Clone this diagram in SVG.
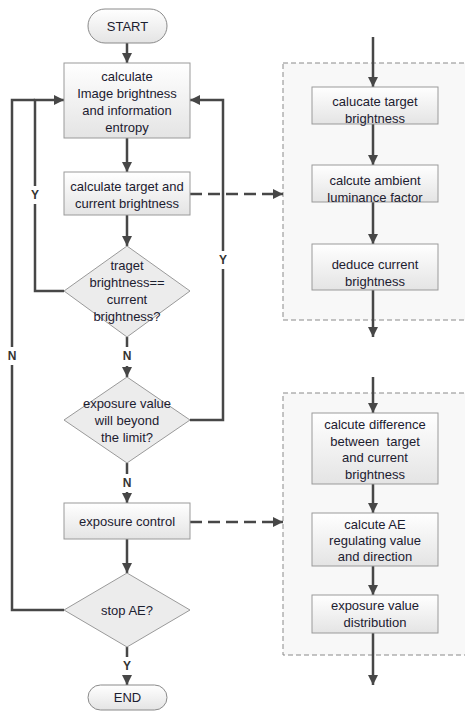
<svg xmlns="http://www.w3.org/2000/svg" width="465" height="717" viewBox="0 0 465 717">
<defs>
<linearGradient id="g" x1="0" y1="0" x2="0" y2="1">
<stop offset="0" stop-color="#ffffff"/>
<stop offset="1" stop-color="#e4e4e4"/>
</linearGradient>
<marker id="ah" viewBox="0 0 10 10" refX="10" refY="5" markerWidth="10" markerHeight="10" markerUnits="userSpaceOnUse" orient="auto">
<path d="M0,0 L10,5 L0,10 z" fill="#474747"/>
</marker>
</defs>
<style>
.bx{fill:url(#g);stroke:#9a9a9a;stroke-width:1}
.dm{fill:#ececec;stroke:#9a9a9a;stroke-width:1}
.pl{fill:url(#g);stroke:#8a8a8a;stroke-width:1}
.ct{fill:#f8f8f8;stroke:#8a8a8a;stroke-width:1;stroke-dasharray:5,3}
.ln{fill:none;stroke:#474747;stroke-width:2.5}
.ds{fill:none;stroke:#474747;stroke-width:2.5;stroke-dasharray:12,6}
text{font-family:"Liberation Sans",Arial,sans-serif;font-size:13px;fill:#1c2030;text-anchor:middle;dominant-baseline:central;white-space:pre}
.lb{font-size:12px;font-weight:bold;fill:#333}
</style>
<g id="container1"><rect class="ct" x="283" y="63" width="190" height="257"/></g>
<g id="container2"><rect class="ct" x="283" y="393" width="190" height="262"/></g>
<g id="connectors">
<path class="ln" d="M127,43 V63" marker-end="url(#ah)"/>
<path class="ln" d="M127,138 V172" marker-end="url(#ah)"/>
<path class="ln" d="M127,215 V246" marker-end="url(#ah)"/>
<path class="ln" d="M127,337 V347"/>
<path class="ln" d="M127,366 V377" marker-end="url(#ah)"/>
<path class="ln" d="M64,291 H35 V204"/>
<path class="ln" d="M35,186 V100 H64" marker-end="url(#ah)"/>
<path class="ln" d="M190,420 H223 V269"/>
<path class="ln" d="M223,251 V100 H190" marker-end="url(#ah)"/>
<path class="ln" d="M127,463 V474"/>
<path class="ln" d="M127,492 V503" marker-end="url(#ah)"/>
<path class="ln" d="M127,539 V573" marker-end="url(#ah)"/>
<path class="ln" d="M64,610 H12 V365"/>
<path class="ln" d="M12,347 V100 H35"/>
<path class="ln" d="M127,647 V657"/>
<path class="ln" d="M127,675 V685" marker-end="url(#ah)"/>
<path class="ds" d="M190,194 H283" marker-end="url(#ah)"/>
<path class="ds" d="M190,522 H283" marker-end="url(#ah)"/>
<path class="ln" d="M373,37 V87" marker-end="url(#ah)"/>
<path class="ln" d="M373,124 V165" marker-end="url(#ah)"/>
<path class="ln" d="M373,202 V244" marker-end="url(#ah)"/>
<path class="ln" d="M373,290 V337" marker-end="url(#ah)"/>
<path class="ln" d="M373,377 V413" marker-end="url(#ah)"/>
<path class="ln" d="M373,484 V513" marker-end="url(#ah)"/>
<path class="ln" d="M373,566 V595" marker-end="url(#ah)"/>
<path class="ln" d="M373,633 V685" marker-end="url(#ah)"/>
<text class="lb" x="35" y="195">Y</text>
<text class="lb" x="223" y="260">Y</text>
<text class="lb" x="127" y="356">N</text>
<text class="lb" x="12" y="356">N</text>
<text class="lb" x="127" y="483">N</text>
<text class="lb" x="127" y="666">Y</text>
</g>
<g id="start"><rect class="pl" x="88" y="9" width="79" height="34" rx="17"/><text x="127.5" y="26">START</text></g>
<g id="box1"><rect class="bx" x="64" y="63" width="126" height="75"/>
<text x="127" y="76">calculate</text><text x="127" y="93">Image brightness</text><text x="127" y="110">and information</text><text x="127" y="127">entropy</text></g>
<g id="box2"><rect class="bx" x="64" y="172" width="126" height="43"/>
<text x="127" y="186">calculate target and</text><text x="127" y="203">current brightness</text></g>
<g id="dec1"><path class="dm" d="M127,246 L190,291 L127,337 L64,291 Z"/>
<text x="127" y="265">traget</text><text x="127" y="282">brightness==</text><text x="127" y="299">current</text><text x="127" y="316">brightness?</text></g>
<g id="dec2"><path class="dm" d="M127,377 L190,420 L127,463 L64,420 Z"/>
<text x="127" y="403">exposure value</text><text x="127" y="420">will beyond</text><text x="127" y="437">the limit?</text></g>
<g id="box3"><rect class="bx" x="64" y="503" width="126" height="36"/>
<text x="127" y="521">exposure control</text></g>
<g id="dec3"><path class="dm" d="M127,573 L190,610 L127,647 L64,610 Z"/>
<text x="127" y="610">stop AE?</text></g>
<g id="end"><rect class="pl" x="88" y="685" width="79" height="25" rx="12.5"/><text x="127.5" y="697.5">END</text></g>
<g id="boxA"><rect class="bx" x="312" y="87" width="126" height="37"/>
<text x="375" y="101">calucate target</text><text x="375" y="118">brightness</text></g>
<g id="boxB"><rect class="bx" x="312" y="165" width="126" height="37"/>
<text x="375" y="180">calcute ambient</text><text x="375" y="197">luminance factor</text></g>
<g id="boxC"><rect class="bx" x="312" y="244" width="126" height="46"/>
<text x="375" y="264">deduce current</text><text x="375" y="281">brightness</text></g>
<g id="boxD"><rect class="bx" x="312" y="413" width="126" height="71"/>
<text x="375" y="424">calcute difference</text><text x="375" y="441" xml:space="preserve">between  target</text><text x="375" y="457">and current</text><text x="375" y="474">brightness</text></g>
<g id="boxE"><rect class="bx" x="312" y="513" width="126" height="53"/>
<text x="375" y="524">calcute AE</text><text x="375" y="540">regulating value</text><text x="375" y="556">and direction</text></g>
<g id="boxF"><rect class="bx" x="312" y="595" width="126" height="38"/>
<text x="375" y="605">exposure value</text><text x="375" y="622">distribution</text></g>
</svg>
